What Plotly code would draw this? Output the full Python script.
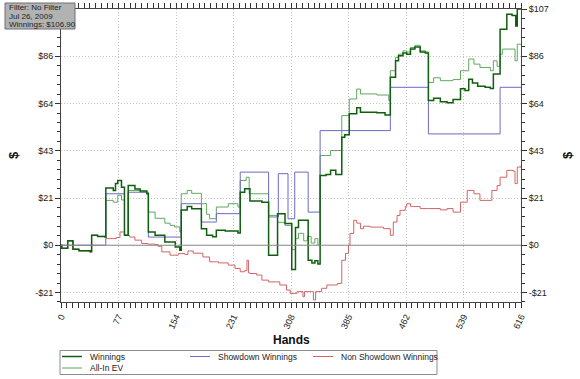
import plotly.graph_objects as go

# ---- data (hand index, cumulative $) ----
win_hands = [0, 1, 9, 16, 24, 39, 41, 49, 59, 60, 70, 73, 76, 81, 85, 90, 99, 106, 115, 117, 126, 139, 153, 159,
             161, 169, 175, 188, 195, 203, 208, 220, 237, 240, 246, 253, 269, 278, 290, 300, 309, 314, 318, 331,
             336, 340, 344, 347, 355, 361, 368, 376, 380, 386, 396, 401, 423, 434, 441, 448, 452, 458, 463, 468,
             474, 481, 488, 492, 499, 508, 517, 525, 535, 541, 546, 551, 558, 568, 575, 579, 588, 597, 604, 609,
             611, 616]
win_vals = [0, -1.4, 2, -1.8, -2.5, -3, 4.5, 4.0, 3.7, 25.9, 24.8, 28, 29.3, 26.3, 4.5, 27, 25.5, 24.5, 23.3, 6,
            4.5, 1.5, -0.8, -2.3, 16, 17.5, 16.5, 7.5, 4.5, 3.8, 6.8, 6.5, 5.5, 24, 25.6, 20, 19.5, -4.5, 14.3, 9.8,
            -11, 8, 11.3, -6.8, -8, -7, -8.5, 31.6, 32, 33.9, 32, 48.9, 50, 59.5, 62.2, 60.2, 60, 59, 76, 83.5, 85.8,
            87, 86.5, 88.8, 89.7, 87.5, 87, 65.5, 66.5, 65, 64.5, 66, 70.9, 70, 75.2, 73.5, 72, 71.5, 71, 77.5, 97.8,
            104.6, 104, 99.3, 106.9, 106.9]

ev_hands = [0, 1, 9, 16, 24, 39, 41, 49, 59, 60, 70, 76, 81, 85, 90, 106, 115, 117, 126, 139, 146, 152, 159, 161,
            169, 175, 188, 195, 199, 208, 224, 237, 240, 248, 252, 269, 278, 290, 300, 309, 314, 318, 325, 330, 335,
            340, 344, 347, 361, 376, 386, 396, 401, 423, 439, 441, 448, 452, 458, 463, 468, 474, 481, 488, 492, 499,
            508, 525, 535, 546, 553, 561, 575, 579, 584, 588, 591, 608, 611, 616]
ev_vals = [0, -1.4, 2, -1.8, -2.5, -3, 4.5, 4.0, 3.7, 20.3, 19.5, 22.6, 20.5, 4.5, 24.8, 24, 23.3, 15, 12.2, 10, 9,
           8.3, 6, 23.3, 24.8, 23.5, 18.8, 14, 12, 17.3, 18.8, 17.3, 29.3, 30.8, 23.3, 23.3, 13.5, 10.4, 9, -2, 3,
           5.4, 2, 4, 1, 3, 0, 40.6, 42.9, 58.7, 66.2, 70.7, 68.5, 68, 65.5, 79, 85, 86.5, 88, 87.5, 89.5, 90.5, 88,
           87.5, 73.7, 75.8, 74.5, 75, 79, 84.3, 82, 80.5, 79, 83.5, 81, 86.5, 88.8, 83.5, 91, 91]

sd_hands = [0, 60, 85, 90, 117, 161, 188, 208, 240, 278, 291, 304, 313, 331, 347, 441, 492, 588, 616]
sd_vals = [0, 23.3, 4.5, 24, 3.7, 18.8, 10.5, 14.3, 33.1, 12.8, 32.4, 12, 33.1, 15, 51.9, 71.5, 50.4, 71.5, 71.5]

nsd_hands = [0, 1, 9, 16, 24, 39, 41, 49, 59, 61, 74, 79, 85, 92, 99, 108, 116, 126, 130, 135, 146, 157, 166, 170,
             177, 190, 199, 211, 224, 233, 240, 246, 249, 251, 253, 262, 269, 278, 289, 293, 302, 307, 316, 324,
             326, 335, 338, 341, 349, 356, 364, 370, 376, 381, 385, 387, 392, 396, 401, 405, 414, 432, 441, 445,
             450, 454, 461, 463, 468, 472, 481, 491, 508, 517, 525, 535, 544, 553, 561, 568, 577, 584, 588, 597,
             606, 608, 611, 616]
nsd_vals = [0, -1.4, 2, -1.8, -2.5, -3, 4.5, 4.0, 3.7, 3, 3.5, 6, 4.5, 3.7, 2.3, 0.8, 0.5, 0.3, -0.5, -3, -4.5,
            -3.8, -4.2, -2.6, -3.6, -5.3, -7.5, -8, -9, -10.5, -12, -11.5, -6.8, -12.5, -12.8, -13.5, -15.8, -16.6,
            -16.6, -18, -20.3, -21.8, -21, -23.3, -21, -21, -24.8, -21, -19.5, -18, -18, -17.3, -6.8, -3.7, 0, 5.3,
            11.3, 10, 7.5, 8.6, 8.2, 7.5, 4.5, 10.5, 13.5, 15.8, 17.6, 18.8, 17.6, 17.5, 16.6, 16.6, 16, 16.6, 15,
            19.5, 24.8, 23.3, 20.3, 20.3, 24.8, 27, 30.8, 33.9, 33.5, 27.9, 35.4, 36.1]

x_ticks = [0, 77, 154, 231, 308, 385, 462, 539, 616]
y_ticks = [-21.38, 0, 21.38, 42.76, 64.14, 85.52, 106.9]
y_labels = ["-$21", "$0", "$21", "$43", "$64", "$86", "$107"]
# the top-left info box hides the left-hand $107 label in the reference
y_labels_left = ["-$21", "$0", "$21", "$43", "$64", "$86", ""]
info_lines = ["Filter: No Filter", "Jul 26, 2009", "Winnings: $106.90"]

FONT = "Liberation Sans, Arial, sans-serif"
W, H = 580, 379
ML, MR, MT, MB = 61, 59, 9, 77
PW, PH = W - ML - MR, H - MT - MB


def px_x(p):  # page pixel -> paper x
    return (p - ML) / PW


def px_y(p):  # page pixel -> paper y
    return (H - MB - p) / PH


series = [
    dict(name="All-In EV", x=ev_hands, y=ev_vals, color="#5fa85f", width=1, leg=(62, 368)),
    dict(name="Showdown Winnings", x=sd_hands, y=sd_vals, color="#6b6bc4", width=1, leg=(190, 356.5)),
    dict(name="Non Showdown Winnings", x=nsd_hands, y=nsd_vals, color="#d46464", width=1, leg=(313, 356.5)),
    dict(name="Winnings", x=win_hands, y=win_vals, color="#0f5f0f", width=1.5, leg=(62, 356.5)),
]

fig = go.Figure()
for s in series:
    fig.add_trace(go.Scatter(x=s["x"], y=s["y"], name=s["name"], mode="lines", line_shape="hv",
                             line=dict(color=s["color"], width=s["width"]), showlegend=False))
# invisible helper trace so the right-hand axis is drawn
fig.add_trace(go.Scatter(x=[None], y=[None], yaxis="y2", showlegend=False, hoverinfo="skip"))

YR = [-25.7, 106.95]


def yax(labels):
    return dict(range=YR, tickmode="array", tickvals=y_ticks, ticktext=labels,
                ticks="outside", ticklen=5, tickcolor="#333", tickwidth=1,
                minor=dict(tick0=0, dtick=4.276, ticks="outside", ticklen=3, tickcolor="#333", showgrid=False),
                tickfont=dict(family=FONT, size=9, color="#222"),
                showline=True, linecolor="#444", linewidth=1, zeroline=False, fixedrange=True)


GRID = dict(showgrid=True, gridcolor="#c4c4c4", griddash="1px,2px", gridwidth=1)

fig.update_layout(
    width=W, height=H,
    margin=dict(l=ML, r=MR, t=MT, b=MB, autoexpand=False),
    paper_bgcolor="white", plot_bgcolor="white",
    font=dict(family=FONT, size=9, color="#222"),
    xaxis=dict(range=[0, 616], tickmode="array", tickvals=x_ticks, ticktext=[str(v) for v in x_ticks],
               tickangle=-65, ticks="outside", ticklen=5, tickcolor="#333",
               minor=dict(tick0=0, dtick=7.7, ticks="outside", ticklen=3, tickcolor="#333", showgrid=False),
               **GRID, showline=True, linecolor="#444", linewidth=1, mirror="allticks", zeroline=False,
               fixedrange=True, tickfont=dict(family=FONT, size=9, color="#222")),
    yaxis=dict(**yax(y_labels_left), **GRID),
    yaxis2=dict(**yax(y_labels), overlaying="y", side="right", showgrid=False),
    showlegend=False,
)

# zero line drawn over the traces
fig.add_shape(type="line", xref="x", yref="y", x0=0, x1=616, y0=0, y1=0,
              line=dict(color="#8a8a8a", width=1), layer="above")

# legend box (compact, two rows as in the reference)
fig.add_shape(type="rect", xref="paper", yref="paper", x0=px_x(60), x1=px_x(437), y0=px_y(374.5), y1=px_y(350.5),
              line=dict(color="#8c8c8c", width=1), fillcolor="white", layer="above")
for s in series:
    lx, ly = s["leg"]
    fig.add_shape(type="line", xref="paper", yref="paper", x0=px_x(lx), x1=px_x(lx + 20), y0=px_y(ly), y1=px_y(ly),
                  line=dict(color=s["color"], width=s["width"]), layer="above")
    fig.add_annotation(text=s["name"], xref="paper", yref="paper", x=px_x(lx + 26), y=px_y(ly),
                       xanchor="left", yanchor="middle", showarrow=False,
                       font=dict(family=FONT, size=8.5, color="#222"))

fig.add_annotation(text="Hands", xref="paper", yref="paper", x=px_x(291), y=px_y(340),
                   xanchor="center", yanchor="middle", showarrow=False,
                   font=dict(family=FONT, size=12, color="#111", weight="bold"))
fig.add_annotation(text="$", xref="paper", yref="paper", x=px_x(13), y=px_y(155), textangle=-90,
                   xanchor="center", yanchor="middle", showarrow=False,
                   font=dict(family=FONT, size=13, color="#111", weight="bold"))
fig.add_annotation(text="$", xref="paper", yref="paper", x=px_x(567), y=px_y(155), textangle=-90,
                   xanchor="center", yanchor="middle", showarrow=False,
                   font=dict(family=FONT, size=13, color="#111", weight="bold"))

# info box top-left
fig.add_shape(type="rect", xref="paper", yref="paper", x0=px_x(5), x1=px_x(75), y0=px_y(29), y1=px_y(3),
              line=dict(color="#6e6e6e", width=1), fillcolor="#b2b2b2", layer="above")
for i, t in enumerate(info_lines):
    fig.add_annotation(text=t, xref="paper", yref="paper", x=px_x(7), y=px_y(7.5 + 8.5 * i),
                       xanchor="left", yanchor="middle", showarrow=False,
                       font=dict(family=FONT, size=8, color="#222"))

fig.write_html("out.html", config={"displayModeBar": False},
               post_script="document.body.style.margin='0px';")
